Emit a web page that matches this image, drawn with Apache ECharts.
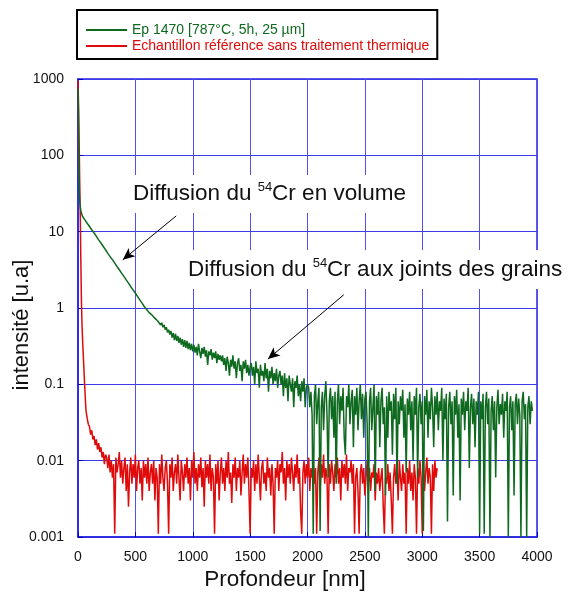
<!DOCTYPE html>
<html>
<head>
<meta charset="utf-8">
<script src="https://cdn.jsdelivr.net/npm/echarts@6/dist/echarts.min.js"></script>
<style>
html, body { margin: 0; padding: 0; background: #fff; }
#chart { width: 573px; height: 596px; }
</style>
</head>
<body>
<div id="chart"></div>
<script>
var FONT = "'Liberation Sans', Arial, sans-serif";
var GREEN = '#0e6a1e';
var RED = '#e00a0a';
var BLUE = '#2424e0';

var greenName = 'Ep 1470 [787°C, 5h, 25 µm]';
var redName = 'Echantillon référence sans traitement thermique';

var xTicks = [0, 500, 1000, 1500, 2000, 2500, 3000, 3500, 4000];
var yTicks = [0.001, 0.01, 0.1, 1, 10, 100, 1000];

// steep start of each profile (nm / intensity)
var greenHeadDepth = [0, 3, 6, 9, 12, 15, 20, 25, 30, 35, 40];
var greenHeadValue = [750, 400, 150, 60, 32, 25, 21, 19, 17.5, 16.5, 15.8];
var redHeadDepth = [0, 5, 10, 15, 20, 25, 30, 35, 40, 45, 50, 55, 60, 65, 70, 80, 90, 100, 110, 120, 130, 140, 150, 160, 170, 180, 190, 200, 210, 220, 230, 240];
var redHeadValue = [950, 450, 150, 45, 15, 4, 1.2, 0.6, 0.38, 0.26, 0.18, 0.12, 0.085, 0.06, 0.045, 0.036, 0.03, 0.028, 0.022, 0.025, 0.019, 0.021, 0.016, 0.019, 0.014, 0.017, 0.013, 0.015, 0.011, 0.013, 0.009, 0.012];

// rest of the profiles, sampled every 10 nm
var sampleStep = 10;
var greenStart = 50;
var greenValue = [
  15.1, 14.3, 13.8, 12.9, 12.5, 11.7, 11.3, 10.6, 10.3, 9.6, 9.3, 8.7, 8.4, 7.8, 7.6, 7.1, 6.9, 6.4, 6.3, 5.8,
  5.7, 5.2, 5.1, 4.7, 4.6, 4.3, 4.2, 3.88, 3.78, 3.5, 3.42, 3.17, 3.1, 2.86, 2.8, 2.6, 2.55, 2.34, 2.3, 2.12,
  2.08, 1.9, 1.89, 1.73, 1.71, 1.56, 1.55, 1.41, 1.41, 1.27, 1.28, 1.15, 1.16, 1.03, 1.05, 0.95,
  0.95, 0.87, 0.91, 0.82, 0.85, 0.76, 0.79, 0.71, 0.74, 0.66, 0.69, 0.60, 0.64, 0.56, 0.60, 0.52, 0.56, 0.48, 0.52, 0.45,
  0.50, 0.41, 0.47, 0.38, 0.46, 0.37, 0.43, 0.35, 0.41, 0.33, 0.39, 0.31, 0.38, 0.30, 0.37, 0.29, 0.35, 0.28, 0.34, 0.27,
  0.33, 0.26, 0.31, 0.24, 0.34, 0.27, 0.22, 0.30, 0.25, 0.31, 0.23, 0.28, 0.18, 0.27, 0.24, 0.29, 0.21, 0.26, 0.22, 0.27, 0.19, 0.25, 0.21, 0.24, 0.20,
  0.24, 0.18, 0.22, 0.15, 0.23, 0.19, 0.13, 0.21, 0.17, 0.24, 0.16, 0.20, 0.12, 0.19, 0.22, 0.15, 0.18, 0.11, 0.20, 0.16, 0.21, 0.14, 0.18, 0.13, 0.17,
  0.19, 0.13, 0.17, 0.10, 0.20, 0.14, 0.16, 0.09, 0.18, 0.13, 0.15, 0.11, 0.19, 0.12, 0.16, 0.08, 0.15, 0.12, 0.17, 0.10, 0.14, 0.11, 0.16, 0.09, 0.13,
  0.15, 0.10, 0.13, 0.07, 0.14, 0.09, 0.12, 0.06, 0.13, 0.10, 0.08, 0.12, 0.05, 0.11, 0.09, 0.13, 0.07, 0.10, 0.06, 0.11, 0.08, 0.12, 0.05, 0.09, 0.10,
  0.09, 0.05, 0.08, 0.04, 0.0011, 0.07, 0.10, 0.03, 0.06, 0.09, 0.0012, 0.05, 0.08, 0.025, 0.07, 0.11, 0.04, 0.006, 0.06, 0.09,
  0.035, 0.07, 0.02, 0.08, 0.005, 0.06, 0.10, 0.03, 0.07, 0.045, 0.09, 0.02, 0.012, 0.07, 0.05, 0.10, 0.03, 0.06, 0.085, 0.015,
  0.07, 0.04, 0.09, 0.025, 0.06, 0.10, 0.035, 0.075, 0.02, 0.065,
  0.08, 0.03, 0.001, 0.06, 0.09, 0.025, 0.05, 0.10, 0.004, 0.07, 0.04, 0.08, 0.015, 0.06, 0.09, 0.03, 0.05, 0.0035, 0.07, 0.02,
  0.08, 0.045, 0.06, 0.012, 0.075, 0.035, 0.09, 0.005, 0.06, 0.03, 0.07, 0.045, 0.085, 0.02, 0.055, 0.007, 0.065, 0.04, 0.08, 0.025,
  0.06, 0.01, 0.07, 0.04, 0.09, 0.006, 0.05, 0.075, 0.03, 0.06,
  0.0012, 0.07, 0.04, 0.085, 0.02, 0.06, 0.035, 0.09, 0.05, 0.015, 0.07, 0.04, 0.08, 0.025, 0.06, 0.045, 0.09, 0.01, 0.065, 0.035,
  0.075, 0.0016, 0.05, 0.08, 0.03, 0.06, 0.0035, 0.07, 0.04, 0.085, 0.02, 0.055, 0.003, 0.065, 0.04, 0.08, 0.025, 0.06, 0.045, 0.09,
  0.008, 0.05, 0.075, 0.03, 0.065, 0.015, 0.06, 0.04, 0.08, 0.0011,
  0.06, 0.035, 0.075, 0.0011, 0.05, 0.08, 0.03, 0.065, 0.001, 0.045, 0.07, 0.025, 0.06, 0.006, 0.05, 0.085, 0.03, 0.055, 0.04, 0.075,
  0.02, 0.06, 0.045, 0.08, 0.001, 0.05, 0.07, 0.025, 0.06, 0.0035, 0.055, 0.075, 0.03, 0.065, 0.04, 0.001, 0.06, 0.08, 0.035, 0.055,
  0.001, 0.05, 0.07, 0.03, 0.06, 0.045
];

var redStart = 250;
var redValue = [
  0.011, 0.008, 0.012, 0.007, 0.010, 0.006, 0.009, 0.0011, 0.011, 0.007,
  0.009, 0.013, 0.006, 0.010, 0.005, 0.008, 0.011, 0.004, 0.009, 0.0025,
  0.007, 0.011, 0.005, 0.009, 0.006, 0.012, 0.004, 0.008, 0.010, 0.005,
  0.008, 0.003, 0.010, 0.006, 0.009, 0.005, 0.011, 0.004, 0.007, 0.009,
  0.005, 0.010, 0.003, 0.008, 0.006, 0.0011, 0.009, 0.005, 0.012, 0.006,
  0.004, 0.008, 0.010, 0.005, 0.0011, 0.009, 0.006, 0.011, 0.004, 0.007,
  0.009, 0.005, 0.012, 0.006, 0.003, 0.010, 0.007, 0.004, 0.009, 0.006,
  0.011, 0.005, 0.008, 0.003, 0.010, 0.006, 0.013, 0.005, 0.008, 0.004,
  0.009, 0.006, 0.011, 0.0045, 0.008, 0.0025, 0.010, 0.006, 0.009, 0.005,
  0.012, 0.004, 0.008, 0.006, 0.0011, 0.009, 0.005, 0.010, 0.003, 0.007,
  0.011, 0.005, 0.008, 0.004, 0.010, 0.006, 0.013, 0.005, 0.007, 0.0028,
  0.009, 0.006, 0.011, 0.004, 0.008, 0.006, 0.010, 0.0035, 0.007, 0.012,
  0.005, 0.009, 0.006, 0.011, 0.004, 0.0011, 0.008, 0.006, 0.010, 0.004,
  0.009, 0.005, 0.012, 0.006, 0.003, 0.008, 0.010, 0.005, 0.007, 0.004,
  0.011, 0.006, 0.008, 0.0035, 0.009, 0.005, 0.0011, 0.008, 0.006, 0.010,
  0.004, 0.009, 0.007, 0.013, 0.005, 0.008, 0.003, 0.010, 0.006, 0.009,
  0.005, 0.011, 0.007, 0.004, 0.009, 0.006, 0.012, 0.005, 0.008, 0.0022,
  0.0011, 0.007, 0.010, 0.005, 0.009, 0.006, 0.011, 0.004, 0.008, 0.006,
  0.010, 0.005, 0.008, 0.0011, 0.007, 0.011, 0.004, 0.009, 0.006, 0.012,
  0.005, 0.008, 0.006, 0.0011, 0.009, 0.005, 0.010, 0.007, 0.004, 0.009,
  0.006, 0.011, 0.005, 0.008, 0.003, 0.010, 0.006, 0.009, 0.005, 0.012,
  0.004, 0.008, 0.007, 0.010, 0.005, 0.009, 0.0011, 0.006, 0.008, 0.004,
  0.0011, 0.007, 0.009, 0.005, 0.008, 0.0035, 0.006, 0.010, 0.005, 0.008,
  0.004, 0.007, 0.006, 0.009, 0.003, 0.007, 0.005, 0.008, 0.004, 0.006,
  0.008, 0.0025, 0.0011, 0.006, 0.005, 0.009, 0.004, 0.007, 0.003, 0.0011,
  0.006, 0.009, 0.005, 0.008, 0.003, 0.010, 0.006, 0.004, 0.009, 0.005,
  0.007, 0.0011, 0.008, 0.005, 0.010, 0.004, 0.007, 0.003, 0.009, 0.006,
  0.0011, 0.008, 0.005, 0.010, 0.006, 0.0011, 0.009, 0.004, 0.007, 0.011,
  0.005, 0.008, 0.006, 0.0011, 0.009, 0.004, 0.010, 0.006, 0.008
];

// annotation arrows, tail -> head, in data units
var arrowVolume = [[856, 16.1], [390, 4.28]];
var arrowJoints = [[2316, 1.49], [1655, 0.214]];

function buildSeries(headX, headY, start, values) {
    var out = [];
    for (var i = 0; i < headX.length; i++) out.push([headX[i], headY[i]]);
    for (var j = 0; j < values.length; j++) out.push([start + j * sampleStep, values[j]]);
    return out;
}
var greenData = buildSeries(greenHeadDepth, greenHeadValue, greenStart, greenValue);
var redData = buildSeries(redHeadDepth, redHeadValue, redStart, redValue);

var myChart = echarts.init(document.getElementById('chart'));
var option = {
    animation: false,
    backgroundColor: '#fff',
    textStyle: { fontFamily: FONT },
    legend: {
        left: 77,
        top: 10,
        orient: 'vertical',
        padding: [13, 8, 6, 9],
        itemGap: 2,
        itemWidth: 41,
        itemHeight: 2,
        icon: 'rect',
        borderColor: '#000',
        borderWidth: 2,
        textStyle: { fontSize: 14, fontFamily: FONT },
        data: [
            { name: greenName, textStyle: { color: GREEN } },
            { name: redName, textStyle: { color: RED } }
        ]
    },
    grid: {
        left: 78,
        right: 36,
        top: 79,
        bottom: 59,
        show: true,
        borderColor: BLUE,
        borderWidth: 1.5
    },
    xAxis: {
        type: 'value',
        min: xTicks[0],
        max: xTicks[xTicks.length - 1],
        interval: 500,
        axisLine: { show: true, lineStyle: { color: BLUE, width: 1.5 } },
        axisTick: { show: true, inside: true, length: 5, lineStyle: { color: '#0000c8' } },
        axisLabel: {
            fontSize: 14, color: '#111', margin: 13, fontFamily: FONT,
            formatter: function (v) { return String(v); }
        },
        splitLine: { show: true, lineStyle: { color: '#5050ee', width: 1 } }
    },
    yAxis: {
        type: 'log',
        logBase: 10,
        min: yTicks[0],
        max: yTicks[yTicks.length - 1],
        splitNumber: 6,
        axisLine: { show: true, lineStyle: { color: BLUE, width: 1.5 } },
        axisTick: { show: true, inside: true, length: 5, lineStyle: { color: '#0000c8' } },
        axisLabel: {
            fontSize: 14, color: '#111', margin: 14, fontFamily: FONT,
            formatter: function (v) { return String(+Number(v).toPrecision(4)); }
        },
        splitLine: { show: true, lineStyle: { color: '#3a3aea', width: 1 } }
    },
    graphic: [
        {
            type: 'text', left: 130, top: 175, z: 100,
            style: {
                text: '{a|Diffusion du }{s|54}{a|Cr en volume}',
                backgroundColor: '#fff',
                padding: [6, 3, 6, 3],
                rich: {
                    a: { fontSize: 22.5, fontFamily: FONT, fill: '#111', lineHeight: 26 },
                    s: { fontSize: 13, fontFamily: FONT, fill: '#111', verticalAlign: 'top', lineHeight: 14 }
                }
            }
        },
        {
            type: 'text', left: 185, top: 250, z: 100,
            style: {
                text: '{a|Diffusion du }{s|54}{a|Cr aux joints des grains}',
                backgroundColor: '#fff',
                padding: [7, 3, 6, 3],
                rich: {
                    a: { fontSize: 22.5, fontFamily: FONT, fill: '#111', lineHeight: 26 },
                    s: { fontSize: 13, fontFamily: FONT, fill: '#111', verticalAlign: 'top', lineHeight: 14 }
                }
            }
        },
        {
            type: 'text', x: 22, y: 325, rotation: Math.PI / 2, z: 100,
            style: {
                text: 'intensité [u.a]', fontSize: 22, fontFamily: FONT, fill: '#111',
                align: 'center', verticalAlign: 'middle'
            }
        },
        {
            type: 'text', x: 285, y: 580, z: 100,
            style: {
                text: 'Profondeur [nm]', fontSize: 22.5, fontFamily: FONT, fill: '#111',
                align: 'center', verticalAlign: 'middle'
            }
        }
    ],
    series: [
        {
            name: greenName,
            type: 'line',
            symbol: 'none',
            z: 3,
            lineStyle: { color: GREEN, width: 1.5 },
            itemStyle: { color: GREEN },
            data: greenData,
            markLine: {
                silent: true,
                symbol: ['none', 'arrow'],
                symbolSize: [8, 12],
                label: { show: false },
                lineStyle: { color: '#000', width: 1, type: 'solid' },
                data: [
                    [{ coord: arrowVolume[0] }, { coord: arrowVolume[1] }],
                    [{ coord: arrowJoints[0] }, { coord: arrowJoints[1] }]
                ]
            }
        },
        {
            name: redName,
            type: 'line',
            symbol: 'none',
            z: 2,
            lineStyle: { color: RED, width: 1.5 },
            itemStyle: { color: RED },
            data: redData
        }
    ]
};
myChart.setOption(option);
</script>
</body>
</html>
